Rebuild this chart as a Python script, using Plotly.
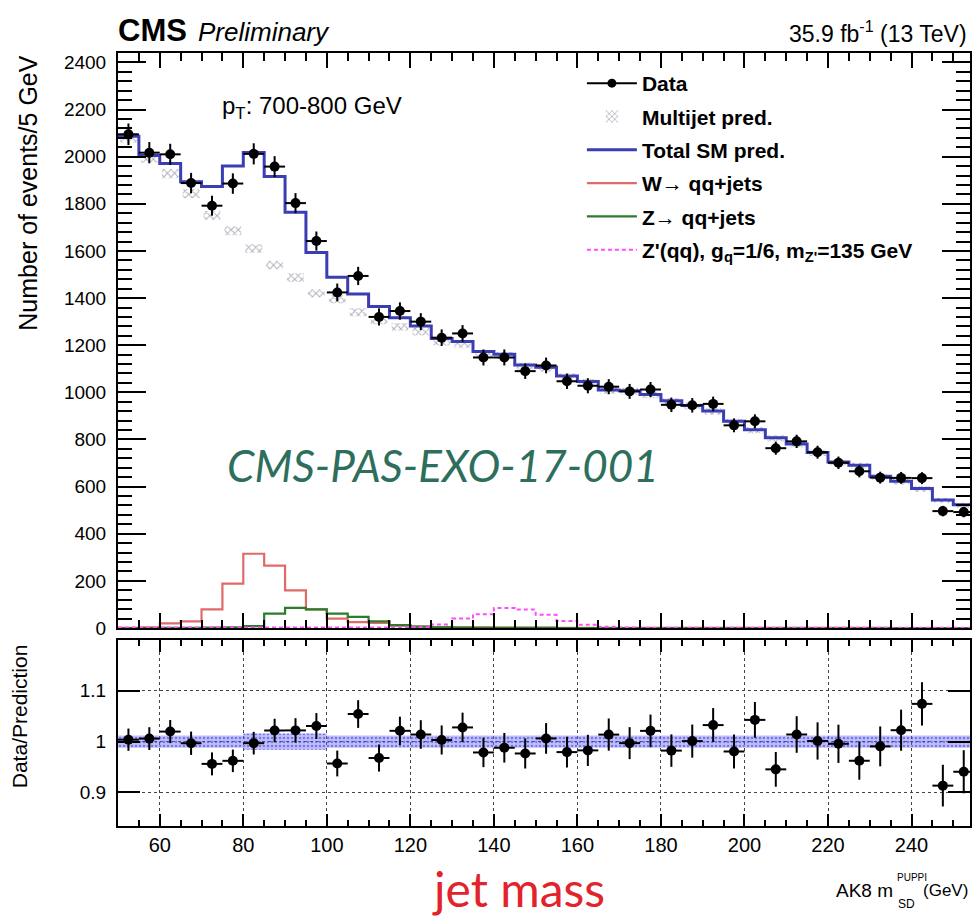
import numpy as np
import plotly.graph_objects as go

# ---------------------------------------------------------------- data
bin_edges = list(range(50, 256, 5))          # AK8 soft-drop mass bins, 5 GeV wide

data_counts = [2095, 2017, 2010, 1888, 1792, 1886, 2012, 1958, 1803, 1642,
               1424, 1494, 1320, 1345, 1300, 1232, 1250, 1148, 1148, 1090,
               1114, 1047, 1028, 1024, 1004, 1012, 947, 945, 951, 860,
               877, 763, 792, 746, 701, 665, 638, 637, 636, 496, 492]

total_sm = [2087, 2005, 1971, 1894, 1874, 1960, 2018, 1916, 1764, 1593,
            1488, 1417, 1364, 1317, 1282, 1228, 1216, 1173, 1162, 1116,
            1107, 1069, 1046, 1010, 1007, 991, 964, 944, 921, 877,
            841, 807, 781, 745, 704, 691, 644, 623, 592, 543, 523]

multijet = [2080, 1995, 1928, 1843, 1750, 1686, 1610, 1540, 1487, 1420,
            1395, 1340, 1305, 1278, 1258, 1215, 1205, 1165, 1156, 1111,
            1103, 1066, 1043, 1008, 1005, 989, 962, 942, 919, 875,
            839, 805, 779, 743, 702, 689, 642, 621, 590, 541, 521]

multijet_err = [20, 20, 20, 19, 19, 19, 18, 18, 18, 17,
                17, 17, 16, 16, 16, 16, 16, 15, 15, 15,
                15, 15, 14, 14, 14, 14, 14, 14, 14, 13,
                13, 13, 13, 13, 12, 12, 12, 12, 12, 11, 11]

w_jets = [1, 3, 20, 28, 79, 188, 315, 265, 160, 79,
          40, 25, 22, 10, 6, 4, 3, 3, 2, 2,
          2, 1, 1, 1, 1, 1, 1, 1, 1, 1,
          1, 1, 1, 1, 1, 1, 1, 0, 0, 0, 0]

z_jets = [0, 0, 1, 1, 2, 3, 8, 61, 85, 79,
          61, 47, 28, 12, 6, 3, 2, 1, 1, 1,
          1, 0, 0, 0, 0, 0, 0, 0, 0, 0,
          0, 0, 0, 0, 0, 0, 0, 0, 0, 0, 0]

zprime = [2, 2, 2, 2, 2, 2, 2, 2, 2, 2,
          2, 2, 2, 2, 3, 15, 40, 58, 85, 78,
          56, 30, 14, 5, 2, 1, 1, 1, 1, 1,
          1, 1, 1, 1, 1, 1, 1, 1, 1, 1, 1]

pred_unc = [0.012, 0.012, 0.012, 0.012, 0.012, 0.012, 0.016, 0.016, 0.016, 0.016,
            0.012, 0.012, 0.012, 0.012, 0.012, 0.012, 0.012, 0.012, 0.012, 0.012,
            0.012, 0.012, 0.012, 0.012, 0.012, 0.012, 0.012, 0.012, 0.012, 0.012,
            0.012, 0.012, 0.012, 0.012, 0.012, 0.012, 0.012, 0.012, 0.012, 0.012, 0.012]

main_ticks = [0, 200, 400, 600, 800, 1000, 1200, 1400, 1600, 1800, 2000, 2200, 2400]
ratio_ticks = [0.9, 1.0, 1.1]
ratio_ticktext = ["0.9", "1", "1.1"]

# ---------------------------------------------------------------- derived
edges = np.array(bin_edges, dtype=float)
centers = 0.5 * (edges[:-1] + edges[1:])
half_w = 0.5 * np.diff(edges)
d = np.array(data_counts, dtype=float)
tot = np.array(total_sm, dtype=float)
mj = np.array(multijet, dtype=float)
mj_e = np.array(multijet_err, dtype=float)
d_err = np.sqrt(d)
ratio = d / tot
ratio_err = d_err / tot
unc = np.array(pred_unc)


def step(vals):
    return list(edges), list(vals) + [vals[-1]]


# ---------------------------------------------------------------- layout geometry
W, H = 976, 921
L, R, T, B = 118, 4, 53, 95
PW, PH = W - L - R, H - T - B


def px_x(p):
    return (p - L) / PW


def px_y(p):
    return (H - B - p) / PH


FONT = "Liberation Sans, Arial, Helvetica, sans-serif"
HUMANIST = "Lato, Open Sans, sans-serif"
BLUE = "#3b3db3"
RED = "#e06a6a"
GREEN = "#2b7d2b"
MAGENTA = "#ff4cff"

fig = go.Figure()

# legend-only entry for data (line + dot, ROOT style)
fig.add_trace(go.Scatter(x=[None], y=[None], mode="lines+markers", name="Data",
                         line=dict(color="black", width=2),
                         marker=dict(color="black", size=9), legendgroup="a"))

# multijet prediction as hatched boxes
fig.add_trace(go.Bar(x=centers, y=2 * mj_e, base=mj - mj_e, width=4.0,
                     name="Multijet pred.", legendgroup="b",
                     marker=dict(color="rgba(0,0,0,0)", line=dict(width=0),
                                 pattern=dict(shape="x", fgcolor="#5f5f7a",
                                              size=5, solidity=0.35)),
                     xaxis="x", yaxis="y"))

xs, ys = step(total_sm)
fig.add_trace(go.Scatter(x=xs, y=ys, mode="lines", line_shape="hv",
                         line=dict(color=BLUE, width=3), name="Total SM pred.",
                         legendgroup="c"))

xs, ys = step(w_jets)
fig.add_trace(go.Scatter(x=xs, y=ys, mode="lines", line_shape="hv",
                         line=dict(color=RED, width=2.2), name="W\u2192 qq+jets",
                         legendgroup="d"))

xs, ys = step(z_jets)
fig.add_trace(go.Scatter(x=xs, y=ys, mode="lines", line_shape="hv",
                         line=dict(color=GREEN, width=2.2), name="Z\u2192 qq+jets",
                         legendgroup="e"))

xs, ys = step(zprime)
fig.add_trace(go.Scatter(x=xs, y=ys, mode="lines", line_shape="hv",
                         line=dict(color=MAGENTA, width=2, dash="4px,3px"),
                         name="Z'(qq), g<sub>q</sub>=1/6, m<sub>Z'</sub>=135 GeV",
                         legendgroup="f"))

# data points with Poisson errors
fig.add_trace(go.Scatter(x=centers, y=d, mode="markers", showlegend=False,
                         marker=dict(color="black", size=10),
                         error_y=dict(type="data", array=d_err, color="black",
                                      thickness=2, width=0),
                         error_x=dict(type="data", array=half_w, color="black",
                                      thickness=2, width=0)))

# ratio panel: prediction uncertainty band
fig.add_trace(go.Bar(x=centers, y=2 * unc, base=1 - unc, width=5.0,
                     showlegend=False, xaxis="x2", yaxis="y2",
                     marker=dict(color="rgba(110,110,245,0.45)", line=dict(width=0),
                                 pattern=dict(shape=".", fgcolor="#2f2fd0",
                                              size=4, solidity=0.3))))

fig.add_trace(go.Scatter(x=centers, y=ratio, mode="markers", showlegend=False,
                         xaxis="x2", yaxis="y2",
                         marker=dict(color="black", size=10),
                         error_y=dict(type="data", array=ratio_err, color="black",
                                      thickness=2, width=0),
                         error_x=dict(type="data", array=half_w, color="black",
                                      thickness=2, width=0)))

split_main = px_y(628)
split_ratio = px_y(640)

axis_common = dict(showline=True, linecolor="black", linewidth=2, mirror="ticks",
                   ticks="inside", tickcolor="black", tickwidth=2,
                   zeroline=False)

fig.update_layout(
    width=W, height=H,
    margin=dict(l=L, r=R, t=T, b=B, pad=0),
    paper_bgcolor="white", plot_bgcolor="white",
    barmode="overlay",
    font=dict(family=FONT, color="black", size=19),
    xaxis=dict(domain=[0, 1], anchor="y", range=[50, 254], dtick=20, tick0=0,
               ticklen=15, showticklabels=False, showgrid=False,
               minor=dict(dtick=5, ticklen=8, ticks="inside", tickwidth=1.5,
                          tickcolor="black", showgrid=False),
               matches="x2", **axis_common),
    yaxis=dict(domain=[split_main, 1], anchor="x", range=[0, 2440],
               tickvals=main_ticks, ticklen=28, showgrid=False,
               tickfont=dict(size=19), ticklabelstandoff=6,
               minor=dict(dtick=40, ticklen=14, ticks="inside", tickwidth=1.5,
                          tickcolor="black", showgrid=False),
               **axis_common),
    xaxis2=dict(domain=[0, 1], anchor="y2", range=[50, 254], dtick=20, tick0=0,
                ticklen=12, showgrid=True, gridcolor="#444", griddash="dot",
                gridwidth=1, tickfont=dict(size=20), ticklabelstandoff=0,
                minor=dict(dtick=5, ticklen=6, ticks="inside", tickwidth=1.5,
                           tickcolor="black", showgrid=False),
                **axis_common),
    yaxis2=dict(domain=[0, split_ratio], anchor="x2", range=[0.834, 1.2],
                tickvals=ratio_ticks, ticktext=ratio_ticktext, ticklen=22,
                showgrid=True, gridcolor="#444", griddash="dot", gridwidth=1,
                tickfont=dict(size=19), ticklabelstandoff=6,
                **axis_common),
    legend=dict(x=px_x(583), y=px_y(63), xanchor="left", yanchor="top",
                bgcolor="rgba(0,0,0,0)",
                font=dict(size=21, family=FONT, weight="bold"),
                itemwidth=50, tracegroupgap=3, traceorder="grouped"),
)

ann = []


def text(x, y, s, size, xanchor="left", yanchor="middle", color="black",
         family=FONT, angle=0):
    ann.append(dict(x=px_x(x), y=px_y(y), xref="paper", yref="paper", text=s,
                    showarrow=False, xanchor=xanchor, yanchor=yanchor,
                    font=dict(size=size, color=color, family=family),
                    textangle=angle))


text(116, 30, "<b>CMS</b>", 31)
text(196, 32, "<i>Preliminary</i>", 26)
text(971, 32, "35.9 fb<sup>-1</sup> (13 TeV)", 23, xanchor="right")
text(220, 108, "p<sub>T</sub>: 700-800 GeV", 24)
text(444, 465, "<i>CMS-PAS-EXO-17-001</i>", 44, xanchor="center",
     color="#2d6e5c", family=HUMANIST)
text(519, 888, "jet mass", 48, xanchor="center", color="#e3232b",
     family=HUMANIST)
# x-axis title with stacked sub/superscript
text(897, 890, "AK8 m", 19, xanchor="right")
text(898, 904, "SD", 12)
text(897, 877, "PUPPI", 10)
text(972, 890, "(GeV)", 17, xanchor="right")
text(27, 54, "Number of events/5 GeV", 25, xanchor="center", yanchor="top", angle=-90)
text(19, 642, "Data/Prediction", 21, xanchor="center", yanchor="top", angle=-90)

fig.update_layout(annotations=ann)

fig.write_html("out.html")
